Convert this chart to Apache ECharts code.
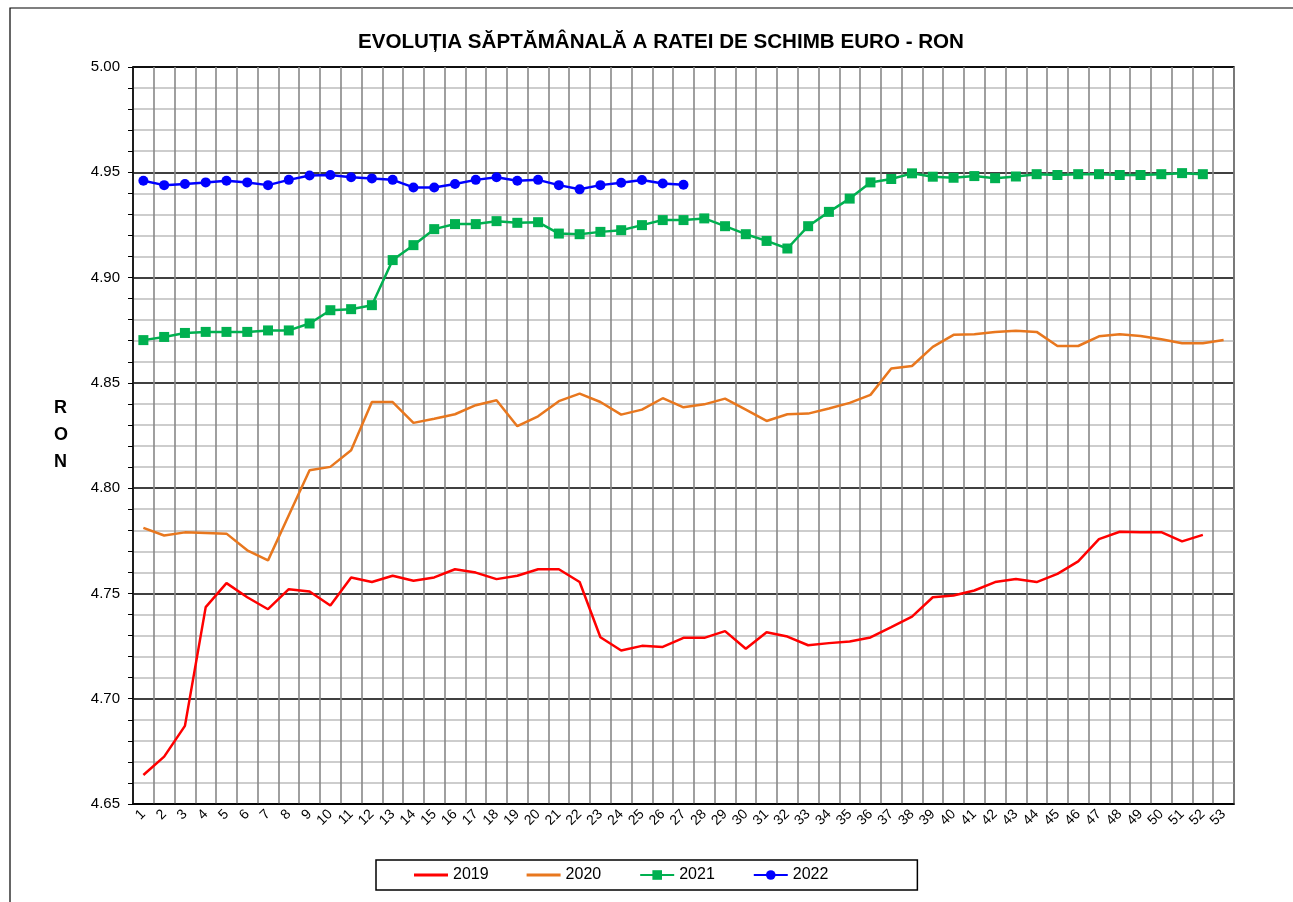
<!DOCTYPE html>
<html>
<head>
<meta charset="utf-8">
<script src="https://cdn.jsdelivr.net/npm/echarts@6/dist/echarts.min.js"></script>
<style>
  html, body { margin: 0; padding: 0; background: #fff; }
  #chart { width: 1293px; height: 902px; }
</style>
</head>
<body>
<div id="chart"></div>
<script>
(function() {
  'use strict';

  // --- Data (weekly EUR/RON) ---
  var weeks = [];
  for (var w = 1; w <= 53; w++) weeks.push(String(w));

  var rate2019 = [
    4.6638, 4.6725, 4.6871, 4.7435, 4.7549, 4.7482, 4.7425, 4.7520, 4.7509, 4.7443,
    4.7576, 4.7554, 4.7584, 4.7560, 4.7576, 4.7615, 4.7599, 4.7568, 4.7584, 4.7615,
    4.7615, 4.7554, 4.7292, 4.7229, 4.7251, 4.7246, 4.7289, 4.7289, 4.7321, 4.7237,
    4.7316, 4.7295, 4.7254, 4.7264, 4.7272, 4.7291, 4.7340, 4.7390, 4.7482, 4.7490,
    4.7514, 4.7554, 4.7568, 4.7554, 4.7593, 4.7652, 4.7758, 4.7793, 4.7791, 4.7791,
    4.7747, 4.7778
  ];

  var rate2020 = [
    4.7811, 4.7775, 4.7790, 4.7787, 4.7784, 4.7705, 4.7657, 4.7871, 4.8085, 4.8101,
    4.8180, 4.8409, 4.8409, 4.8310, 4.8330, 4.8351, 4.8394, 4.8417, 4.8294, 4.8341,
    4.8413, 4.8449, 4.8409, 4.8349, 4.8373, 4.8427, 4.8384, 4.8398, 4.8425, 4.8373,
    4.8319, 4.8351, 4.8354, 4.8378, 4.8405, 4.8443, 4.8568, 4.8580, 4.8671, 4.8728,
    4.8731, 4.8742, 4.8747, 4.8742, 4.8675, 4.8675, 4.8721, 4.8731, 4.8723, 4.8707,
    4.8688, 4.8688, 4.8704
  ];

  var rate2021 = [
    4.8703, 4.8718, 4.8737, 4.8742, 4.8742, 4.8742, 4.8749, 4.8749, 4.8782, 4.8845,
    4.8850, 4.8869, 4.9083, 4.9154, 4.9230, 4.9254, 4.9254, 4.9268, 4.9260, 4.9263,
    4.9209, 4.9206, 4.9217, 4.9225, 4.9249, 4.9273, 4.9273, 4.9281, 4.9244, 4.9206,
    4.9174, 4.9138, 4.9244, 4.9312, 4.9375, 4.9452, 4.9468, 4.9495, 4.9479, 4.9474,
    4.9482, 4.9472, 4.9480, 4.9491, 4.9487, 4.9491, 4.9491, 4.9487, 4.9487, 4.9491,
    4.9496, 4.9491
  ];

  var rate2022 = [
    4.9460, 4.9439, 4.9444, 4.9452, 4.9460, 4.9452, 4.9439, 4.9464, 4.9485, 4.9487,
    4.9476, 4.9471, 4.9464, 4.9428, 4.9428, 4.9444, 4.9464, 4.9476, 4.9460, 4.9464,
    4.9439, 4.9419, 4.9439, 4.9450, 4.9463, 4.9447, 4.9441
  ];

  var FONT = '"Liberation Sans", Arial, sans-serif';
  // plain line for the legend of the series without markers
  var LINE_ICON = 'path://M0,0H34V3H0Z';

  var chart = echarts.init(document.getElementById('chart'), null, { renderer: 'canvas' });

  chart.setOption({
    animation: false,
    backgroundColor: '#fff',
    title: {
      text: 'EVOLUȚIA SĂPTĂMÂNALĂ A RATEI DE SCHIMB EURO - RON',
      left: 656,
      textAlign: 'center',
      top: 27,
      textStyle: { fontFamily: FONT, fontSize: 20.6, fontWeight: 'bold', color: '#000' }
    },
    graphic: [
      {
        type: 'rect',
        shape: { x: 10, y: 8, width: 1300, height: 900 },
        style: { fill: null, stroke: '#000', lineWidth: 1.2 },
        silent: true
      },
      {
        type: 'text',
        left: 54,
        top: 395,
        style: {
          text: 'R\nO\nN',
          fontFamily: FONT,
          fontSize: 18,
          fontWeight: 'bold',
          lineHeight: 27,
          fill: '#000',
          align: 'center'
        }
      }
    ],
    legend: {
      left: 376,
      top: 860,
      orient: 'horizontal',
      borderColor: '#000',
      borderWidth: 1.5,
      borderRadius: 0,
      padding: [7, 89, 7, 38],
      itemWidth: 34,
      itemHeight: 12,
      itemGap: 38,
      textStyle: { fontFamily: FONT, fontSize: 16, color: '#000' },
      data: [
        { name: '2019', icon: LINE_ICON },
        { name: '2020', icon: LINE_ICON },
        '2021',
        '2022'
      ]
    },
    grid: {
      left: 133,
      right: 59,
      top: 67,
      bottom: 98,
      show: true,
      borderColor: '#000',
      borderWidth: 1.5,
      backgroundColor: 'transparent'
    },
    xAxis: {
      type: 'category',
      data: weeks,
      boundaryGap: true,
      axisLine: { lineStyle: { color: '#000', width: 1.5 } },
      axisTick: { show: false },
      splitLine: {
        show: true,
        interval: 0,
        lineStyle: { color: '#888888', width: 1.6 }
      },
      axisLabel: {
        interval: 0,
        rotate: 45,
        margin: 8,
        fontFamily: FONT,
        fontSize: 14,
        color: '#000'
      }
    },
    yAxis: {
      type: 'value',
      min: 4.65,
      max: 5.0,
      interval: 0.05,
      axisLine: { show: true, lineStyle: { color: '#000', width: 1.5 } },
      axisTick: { show: true, length: 5, lineStyle: { color: '#000' } },
      minorTick: { show: true, splitNumber: 5, length: 5, lineStyle: { color: '#000' } },
      splitLine: { show: true, lineStyle: { color: '#000', width: 1.5 } },
      minorSplitLine: { show: true, lineStyle: { color: '#bdbdbd', width: 1.5 } },
      axisLabel: {
        margin: 13,
        fontFamily: FONT,
        fontSize: 15,
        color: '#000',
        formatter: function(v) { return v.toFixed(2); }
      }
    },
    series: [
      {
        name: '2019',
        type: 'line',
        data: rate2019,
        symbol: 'none',
        lineStyle: { color: '#ff0000', width: 2.5 },
        itemStyle: { color: '#ff0000' },
        z: 3
      },
      {
        name: '2020',
        type: 'line',
        data: rate2020,
        symbol: 'none',
        lineStyle: { color: '#e8771e', width: 2.5 },
        itemStyle: { color: '#e8771e' },
        z: 3
      },
      {
        name: '2021',
        type: 'line',
        data: rate2021,
        symbol: 'rect',
        symbolSize: 10,
        lineStyle: { color: '#00b050', width: 2.5 },
        itemStyle: { color: '#00b050' },
        z: 4
      },
      {
        name: '2022',
        type: 'line',
        data: rate2022,
        symbol: 'circle',
        symbolSize: 10,
        lineStyle: { color: '#0000ff', width: 2.5 },
        itemStyle: { color: '#0000ff' },
        z: 5
      }
    ]
  });
})();
</script>
</body>
</html>
